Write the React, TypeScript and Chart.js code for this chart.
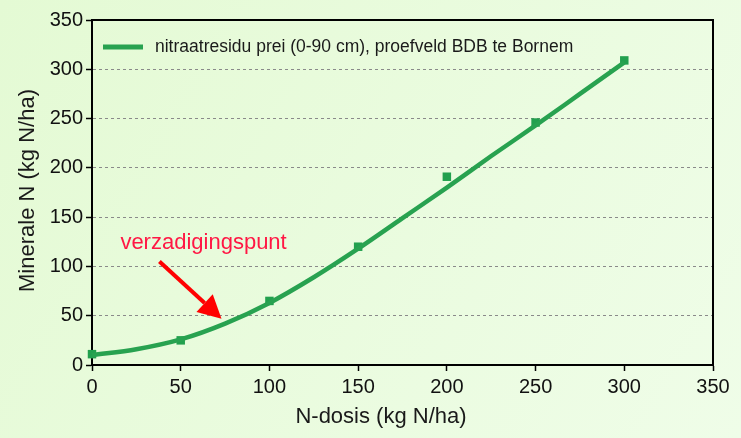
import React, { useEffect, useRef } from "react";
import { Chart, registerables } from "chart.js";

Chart.register(...registerables);

const doseX = [0, 50, 100, 150, 200, 250, 300];
const measured = [11, 25, 65, 120, 191, 246, 309];
const curveX = [0, 25, 50, 75, 100, 125, 150, 175, 200, 225, 250, 275, 300];
const curveY = [10, 16, 26, 42, 63, 89, 118, 149, 180, 212, 243, 275, 307];
const legendLabel = "nitraatresidu prei (0-90 cm), proefveld BDB te Bornem";
const annotationText = "verzadigingspunt";
const arrowFrom = [38, 105];
const arrowTo = [73, 47];
const annotationPos = [16, 124];
const xTitle = "N-dosis (kg N/ha)";
const yTitle = "Minerale N (kg N/ha)";

const GREEN = "#28a250";

const decor = {
  id: "decor",
  beforeDraw(chart: any) {
    const { ctx, width, height } = chart;
    const g = ctx.createLinearGradient(0, 0, width, height);
    g.addColorStop(0, "#e4fad4");
    g.addColorStop(1, "#effde8");
    ctx.save();
    ctx.fillStyle = g;
    ctx.fillRect(0, 0, width, height);
    ctx.restore();
  },
  afterDatasetsDraw(chart: any) {
    const { ctx, chartArea: ca, scales } = chart;
    const xs = scales.x, ys = scales.y;
    ctx.save();
    // frame top/right
    ctx.strokeStyle = "#000";
    ctx.lineWidth = 2;
    ctx.beginPath();
    ctx.moveTo(ca.left, ca.top);
    ctx.lineTo(ca.right, ca.top);
    ctx.lineTo(ca.right, ca.bottom);
    ctx.stroke();

    // legend
    ctx.strokeStyle = GREEN;
    ctx.lineWidth = 5;
    ctx.beginPath();
    ctx.moveTo(ca.left + 11, ca.top + 27);
    ctx.lineTo(ca.left + 51, ca.top + 27);
    ctx.stroke();
    ctx.fillStyle = "#1a1a1a";
    ctx.font = "17.5px 'Liberation Sans', Arial, sans-serif";
    ctx.textBaseline = "middle";
    ctx.textAlign = "left";
    ctx.fillText(legendLabel, ca.left + 63, ca.top + 27);

    // annotation text
    ctx.fillStyle = "#ff1744";
    ctx.font = "22px 'Liberation Sans', Arial, sans-serif";
    ctx.fillText(annotationText, xs.getPixelForValue(annotationPos[0]), ys.getPixelForValue(annotationPos[1]));

    // arrow
    const x1 = xs.getPixelForValue(arrowFrom[0]);
    const y1 = ys.getPixelForValue(arrowFrom[1]);
    const x2 = xs.getPixelForValue(arrowTo[0]);
    const y2 = ys.getPixelForValue(arrowTo[1]);
    const ang = Math.atan2(y2 - y1, x2 - x1);
    const headLen = 23, headW = 12;
    const bx = x2 - headLen * Math.cos(ang);
    const by = y2 - headLen * Math.sin(ang);
    ctx.strokeStyle = "#ff0000";
    ctx.fillStyle = "#ff0000";
    ctx.lineWidth = 4;
    ctx.beginPath();
    ctx.moveTo(x1, y1);
    ctx.lineTo(bx, by);
    ctx.stroke();
    ctx.beginPath();
    ctx.moveTo(x2, y2);
    ctx.lineTo(bx + headW * Math.sin(ang), by - headW * Math.cos(ang));
    ctx.lineTo(bx - headW * Math.sin(ang), by + headW * Math.cos(ang));
    ctx.closePath();
    ctx.fill();

    // axis titles
    ctx.fillStyle = "#1a1a1a";
    ctx.font = "22px 'Liberation Sans', Arial, sans-serif";
    ctx.textAlign = "center";
    ctx.fillText(xTitle, 381, 417);
    ctx.translate(28, (ca.top + ca.bottom) / 2 - 2);
    ctx.rotate(-Math.PI / 2);
    ctx.fillText(yTitle, 0, 0);
    ctx.restore();
  },
};

export default function App() {
  const ref = useRef<HTMLCanvasElement>(null);
  useEffect(() => {
    document.body.style.margin = "0";
    const chart = new Chart(ref.current!, {
      type: "scatter",
      data: {
        datasets: [
          {
            type: "line",
            label: legendLabel,
            data: curveX.map((x, i) => ({ x, y: curveY[i] })),
            borderColor: GREEN,
            borderWidth: 4.5,
            pointRadius: 0,
            cubicInterpolationMode: "monotone",
            fill: false,
            clip: false as any,
          },
          {
            label: "meting",
            data: doseX.map((x, i) => ({ x, y: measured[i] })),
            pointStyle: "rect",
            pointRadius: 6,
            backgroundColor: "#22a04e",
            borderColor: "#22a04e",
            borderWidth: 0,
            clip: false as any,
          },
        ],
      },
      options: {
        responsive: false,
        animation: false,
        layout: { padding: { top: 20, right: 28, left: 0, bottom: 0 } },
        plugins: { legend: { display: false }, tooltip: { enabled: false } },
        scales: {
          x: {
            type: "linear",
            min: 0,
            max: 350,
            afterFit: (s: any) => { s.height = 73; },
            ticks: {
              stepSize: 50,
              color: "#111",
              padding: 4,
              font: { family: "'Liberation Sans Narrow', 'Liberation Sans', Arial", size: 20 },
            },
            grid: { drawOnChartArea: false, drawTicks: true, tickLength: 6, tickColor: "#000", tickWidth: 1.5 },
            border: { color: "#000", width: 2 },
          },
          y: {
            type: "linear",
            min: 0,
            max: 350,
            afterFit: (s: any) => { s.width = 92; },
            ticks: {
              stepSize: 50,
              color: "#111",
              padding: 3,
              font: { family: "'Liberation Sans Narrow', 'Liberation Sans', Arial", size: 20 },
            },
            grid: {
              color: (c: any) => (c.tick && (c.tick.value === 0 || c.tick.value === 350) ? "rgba(0,0,0,0)" : "#8a8a8a"),
              lineWidth: 1,
              drawTicks: true,
              tickLength: 6,
              tickColor: "#000",
              tickWidth: 1.5,
            },
            border: { color: "#000", width: 2, dash: [3, 3] },
          },
        },
      },
      plugins: [decor],
    } as any);
    return () => chart.destroy();
  }, []);
  return (
    <div style={{ position: "absolute", left: 0, top: 0, width: 741, height: 438 }}>
      <canvas ref={ref} width={741} height={438} />
    </div>
  );
}
